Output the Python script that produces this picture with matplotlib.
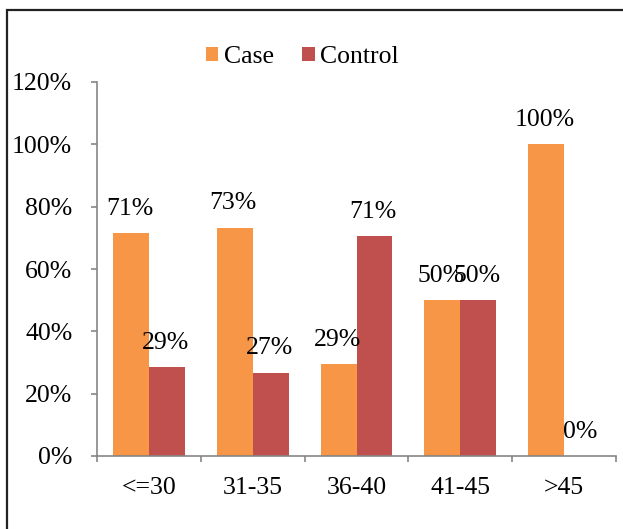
import matplotlib
matplotlib.use("Agg")
import matplotlib.pyplot as plt
import numpy as np
from matplotlib.patches import Rectangle

plt.rcParams['font.family'] = 'serif'
plt.rcParams['font.serif'] = ['Liberation Serif', 'DejaVu Serif']

groups = ["<=30", "31-35", "36-40", "41-45", ">45"]
case = [71.4, 73.3, 29.4, 50.0, 100.0]
control = [28.6, 26.7, 70.6, 50.0, 0.0]
yticks = [0, 20, 40, 60, 80, 100, 120]

caseColor = "#F79646"
controlColor = "#C0504D"
axisColor = "#868686"
fs = 18.5
fam = "Liberation Serif"

fig = plt.figure(figsize=(6.23, 5.29), dpi=100)
ax = fig.add_axes([97/623, 1-456/529, (616-97)/623, (456-82)/529])

x = np.arange(len(groups))
w = 0.346
b1 = ax.bar(x - w/2, case, w, color=caseColor, label="Case")
b2 = ax.bar(x + w/2, control, w, color=controlColor, label="Control")

# data labels above the bars
for bars, vals in ((b1, case), (b2, control)):
  for r, v in zip(bars, vals):
    ax.annotate("%d%%" % round(v), (r.get_x()+r.get_width()/2, v),
      xytext=(-1, 17.5), textcoords="offset points",
      ha="center", va="center", fontsize=fs, family=fam)

ax.set_xlim(-0.5, len(groups)-0.5)
ax.set_ylim(0, 120)
ax.set_yticks(yticks)
ax.set_yticklabels(["%d%%" % t for t in yticks], family=fam)
ax.set_xticks(x)
ax.set_xticklabels(groups, family=fam)
ax.set_xticks(np.arange(len(groups)+1)-0.5, minor=True)

for s in ("top", "right"):
  ax.spines[s].set_visible(False)
for s in ("left", "bottom"):
  ax.spines[s].set_color(axisColor)
  ax.spines[s].set_linewidth(1.2)

ax.tick_params(axis="y", direction="out", length=4.3, width=1.2, color=axisColor,
  pad=13.5, labelsize=fs)
ax.tick_params(axis="x", which="major", length=0, pad=15, labelsize=fs)
ax.tick_params(axis="x", which="minor", direction="out", length=4.3, width=1.2, color=axisColor)

leg = fig.legend(handles=[b1, b2], loc="center", bbox_to_anchor=(302/623, 1-57/529),
  ncol=2, frameon=False, prop={"family": fam, "size": fs}, handlelength=0.5, handleheight=0.5,
  handletextpad=0.2, columnspacing=1.1, borderpad=0)

# outer frame (runs off the right and bottom edge)
fig.patches.append(Rectangle((7/623, -0.1), 1.2, 1-10/529+0.1, transform=fig.transFigure,
  fill=False, edgecolor="#222222", linewidth=1.6))

fig.savefig("out.png", dpi=100)
